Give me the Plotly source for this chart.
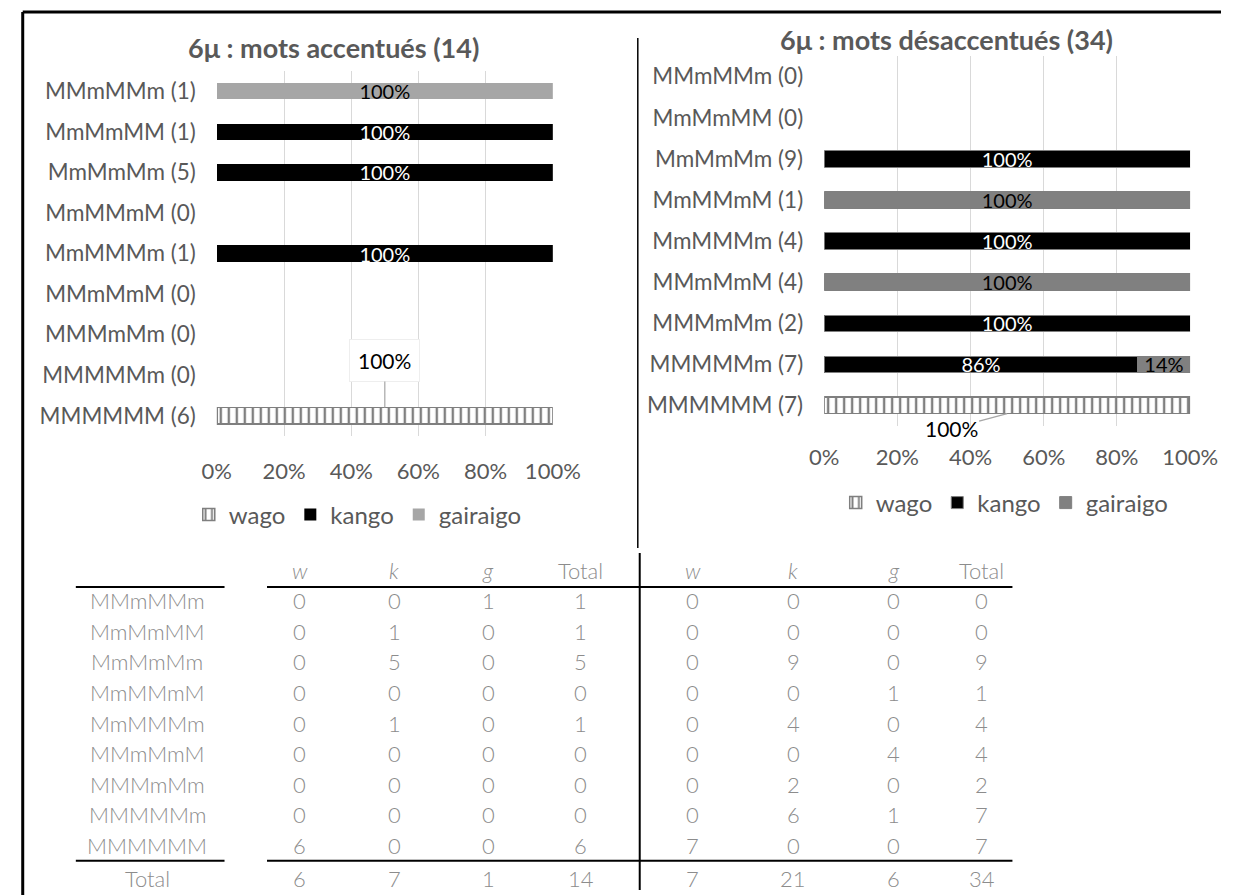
import plotly.graph_objects as go

# ---------------- data ----------------
patterns = ["MMmMMm", "MmMmMM", "MmMmMm", "MmMMmM", "MmMMMm",
            "MMmMmM", "MMMmMm", "MMMMMm", "MMMMMM"]
series_names = ["wago", "kango", "gairaigo"]

acc_wago = [0, 0, 0, 0, 0, 0, 0, 0, 6]
acc_kango = [0, 1, 5, 0, 1, 0, 0, 0, 0]
acc_gairaigo = [1, 0, 0, 0, 0, 0, 0, 0, 0]

des_wago = [0, 0, 0, 0, 0, 0, 0, 0, 7]
des_kango = [0, 0, 9, 0, 4, 0, 2, 6, 0]
des_gairaigo = [0, 0, 0, 1, 0, 4, 0, 1, 0]

x_tick_vals = [0, 20, 40, 60, 80, 100]
x_tick_text = ["0%", "20%", "40%", "60%", "80%", "100%"]

title_acc = "6μ : mots accentués"
title_des = "6μ : mots désaccentués"
table_headers = ["w", "k", "g", "Total"]

# ---------------- geometry helpers ----------------
W, H = 1249, 895


def px(x):
    return x / W


def py(y):
    return 1 - y / H


FONT = "Lato, 'Open Sans', sans-serif"
GREY = "#595959"


def pct(vals, totals):
    # share of each row; empty rows give no bar at all
    return [100.0 * v / t if (t and v) else None for v, t in zip(vals, totals)]


def labels(p):
    return ["%d%%" % round(v) if v else "" for v in p]


fig = go.Figure()


def add_chart(wago, kango, gair, xa, ya, leg, gair_color, outline):
    totals = [a + b + c for a, b, c in zip(wago, kango, gair)]
    cats = ["%s (%d)" % (p, t) for p, t in zip(patterns, totals)]
    pw, pk, pg = pct(wago, totals), pct(kango, totals), pct(gair, totals)
    fig.add_trace(go.Bar(
        y=cats, x=pw, orientation="h", name=series_names[0], xaxis=xa, yaxis=ya,
        legend=leg, width=0.4,
        marker=dict(color="white", line=dict(color="#7f7f7f", width=1.5),
                    pattern=dict(shape="|", fgcolor="black", bgcolor="white",
                                 size=8, solidity=0.3)),
        hoverinfo="skip"))
    fig.add_trace(go.Bar(
        y=cats, x=pk, orientation="h", name=series_names[1], xaxis=xa, yaxis=ya,
        legend=leg, width=0.4,
        marker=dict(color="black", line=dict(color=outline or "black",
                                             width=1 if outline else 0)),
        text=labels(pk), textposition="inside", insidetextanchor="middle",
        constraintext="none", textangle=0,
        textfont=dict(family=FONT, size=20, color="white"), hoverinfo="skip"))
    fig.add_trace(go.Bar(
        y=cats, x=pg, orientation="h", name=series_names[2], xaxis=xa, yaxis=ya,
        legend=leg, width=0.4,
        marker=dict(color=gair_color, line=dict(color=outline or gair_color,
                                                width=1 if outline else 0)),
        text=labels(pg), textposition="inside", insidetextanchor="middle",
        constraintext="none", textangle=0,
        textfont=dict(family=FONT, size=20, color="black"), hoverinfo="skip"))
    return cats, totals, pw


cats_a, tot_a, pw_a = add_chart(acc_wago, acc_kango, acc_gairaigo, "x", "y", "legend",
                                "#a6a6a6", None)
cats_d, tot_d, pw_d = add_chart(des_wago, des_kango, des_gairaigo, "x2", "y2", "legend2",
                                "#808080", "#7f7f7f")

n = len(patterns)
xcommon = dict(range=[0, 100], tickvals=x_tick_vals, ticktext=x_tick_text,
               showgrid=True, gridcolor="#d9d9d9", gridwidth=1, zeroline=False,
               showline=False, ticks="", fixedrange=True,
               tickfont=dict(family=FONT, size=22, color=GREY))
ycommon = dict(type="category", autorange=False, range=[n - 0.5, -0.5],
               showgrid=False, zeroline=False, showline=False, ticks="",
               ticklabelstandoff=20, fixedrange=True,
               tickfont=dict(family=FONT, size=22.5, color=GREY))

legcommon = dict(orientation="h", yanchor="middle", xanchor="center", traceorder="normal",
                 font=dict(family=FONT, size=24, color=GREY), itemwidth=30,
                 bgcolor="rgba(0,0,0,0)")

fig.update_layout(
    width=W, height=H, autosize=False,
    margin=dict(l=0, r=0, t=0, b=0),
    paper_bgcolor="white", plot_bgcolor="white",
    barmode="stack",
    xaxis=dict(domain=[px(209), px(557)], anchor="y", ticklabelstandoff=20, **xcommon),
    yaxis=dict(domain=[py(436), py(71)], anchor="x", categoryorder="array",
               categoryarray=cats_a, **ycommon),
    xaxis2=dict(domain=[px(838), px(1217)], anchor="y2", ticklabelstandoff=16, **xcommon),
    yaxis2=dict(domain=[py(426), py(56)], anchor="x2", categoryorder="array",
                categoryarray=cats_d, **ycommon),
    legend=dict(x=px(355), y=py(515), **legcommon),
    legend2=dict(x=px(1025), y=py(503), **legcommon),
)

ann = []
# titles
ann.append(dict(text="<b>%s (%d)</b>" % (title_acc, sum(tot_a)), x=px(330), y=py(47),
                xref="paper", yref="paper", showarrow=False,
                xanchor="center", yanchor="middle",
                font=dict(family=FONT, size=27, color=GREY)))
ann.append(dict(text="<b>%s (%d)</b>" % (title_des, sum(tot_d)), x=px(965), y=py(40),
                xref="paper", yref="paper", showarrow=False,
                xanchor="center", yanchor="middle",
                font=dict(family=FONT, size=27, color=GREY)))

# wago call-out labels
i_a = n - 1
ann.append(dict(text="%d%%" % round(pw_a[i_a]), x=pw_a[i_a] / 2, y=i_a - 0.2,
                xref="x", yref="y", showarrow=True, arrowhead=0, arrowwidth=1.2,
                arrowcolor="#a6a6a6", ax=0, ay=-47, standoff=0,
                bgcolor="white", bordercolor="#eeeeee", borderwidth=1, borderpad=8,
                font=dict(family=FONT, size=21, color="black")))
ann.append(dict(text="%d%%" % round(pw_d[i_a]), x=pw_d[i_a] / 2, y=i_a + 0.2,
                xref="x2", yref="y2", showarrow=True, arrowhead=0, arrowwidth=1.2,
                arrowcolor="#a6a6a6", ax=-56, ay=15, standoff=0,
                font=dict(family=FONT, size=21, color="black")))

# ---------------- table ----------------
TFONT = dict(family=FONT, size=22, color="#8c8c8c", weight=300)
col_left = [295, 393, 490, 586]
col_right = [702, 806, 910, 1001]
label_x = 137
header_y = 570
row_pitch = 30.6


def tann(text, x, y, italic=False):
    t = "<i>%s</i>" % text if italic else text
    ann.append(dict(text=t, x=px(x), y=py(y), xref="paper", yref="paper",
                    showarrow=False, xanchor="center", yanchor="middle", font=TFONT))


for j, h in enumerate(table_headers):
    tann(h, col_left[j], header_y, italic=(h != "Total"))
    tann(h, col_right[j], header_y, italic=(h != "Total"))

for i, p in enumerate(patterns):
    y = header_y + row_pitch * (i + 1)
    tann(p, label_x, y)
    la = [acc_wago[i], acc_kango[i], acc_gairaigo[i], tot_a[i]]
    ld = [des_wago[i], des_kango[i], des_gairaigo[i], tot_d[i]]
    for j in range(4):
        tann(str(la[j]), col_left[j], y)
        tann(str(ld[j]), col_right[j], y)

y_tot = header_y + row_pitch * (n + 1) + 2
tann("Total", label_x, y_tot)
sum_a = [sum(acc_wago), sum(acc_kango), sum(acc_gairaigo), sum(tot_a)]
sum_d = [sum(des_wago), sum(des_kango), sum(des_gairaigo), sum(tot_d)]
for j in range(4):
    tann(str(sum_a[j]), col_left[j], y_tot)
    tann(str(sum_d[j]), col_right[j], y_tot)

fig.update_layout(annotations=ann)

# ---------------- lines ----------------
shapes = []


def line(x0, y0, x1, y1, w=2, c="black"):
    shapes.append(dict(type="line", xref="paper", yref="paper",
                       x0=px(x0), y0=py(y0), x1=px(x1), y1=py(y1),
                       line=dict(color=c, width=w)))


line_top = 587
line_bot = header_y + row_pitch * (n + 0.5)
for yy in (line_top, line_bot):
    line(63, yy, 217, yy)
    line(261, yy, 1033, yy)
line(647, 553, 647, 890)
line(645, 38, 645, 548, w=1.5)
line(8, 12, 1249, 12, w=3)
line(8, 12, 8, 895, w=3)

fig.update_layout(shapes=shapes)

fig.write_html("out.html",
               config={"displayModeBar": False},
               post_script="document.body.style.margin='0';"
                           "document.body.style.overflow='hidden';")
